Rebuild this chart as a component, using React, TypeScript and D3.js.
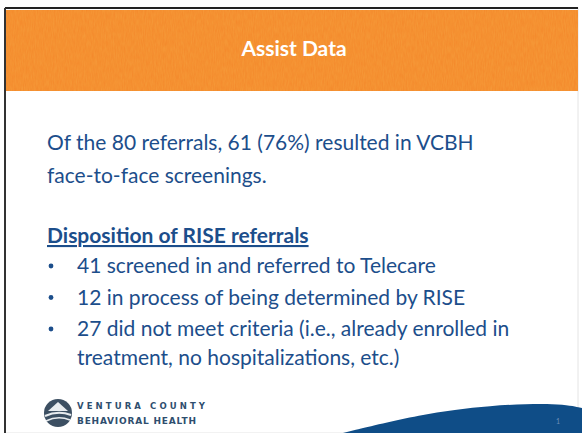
import React from "react";
import * as d3 from "d3";

// slide numbers
const totalReferrals = [80];
const screenedCounts = [61];
const screenedPct = [76];
const dispositionCounts = [41, 12, 27];
const dispositionLabels = [
  ["screened in and referred to Telecare"],
  ["in process of being determined by RISE"],
  ["did not meet criteria (i.e., already enrolled in", "treatment, no hospitalizations, etc.)"]
];

const W = 582;
const H = 433;
const FONT = "Lato, 'Open Sans', sans-serif";
const BLUE = "#1c4e8b";

export default function App() {
  // vertical positions of the text lines
  const lineY = d3.scaleLinear().domain([0, 1]).range([150, 183]);
  const bulletY = d3.scaleLinear().domain([0, 1]).range([273, 304.5]);

  let row = 0;
  const bulletLines: { text: string; y: number; bullet: boolean }[] = [];
  dispositionCounts.forEach((c, i) => {
    dispositionLabels[i].forEach((t, j) => {
      bulletLines.push({
        text: j === 0 ? `${c} ${t}` : t,
        y: j === 0 ? bulletY(row) : bulletY(row - 1) + 29,
        bullet: j === 0
      });
      if (j === 0) row++;
    });
  });

  const wave = d3.line().curve(d3.curveBasis)([
    [343, 433],
    [420, 414],
    [490, 405],
    [560, 403],
    [582, 408]
  ]);

  return (
    <svg width={W} height={H} style={{ position: "absolute", left: 0, top: 0, display: "block" }}>
      <defs>
        <filter id="grain" x="0" y="0" width="1" height="1">
          <feTurbulence type="fractalNoise" baseFrequency="0.9 0.15" numOctaves="2" seed="3" />
          <feColorMatrix type="matrix" values="0 0 0 0 0.93  0 0 0 0 0.46  0 0 0 0 0.08  0 0 0 0.4 0" />
          <feComposite in2="SourceGraphic" operator="in" />
        </filter>
      </defs>
      <rect x={0} y={0} width={W} height={H} fill="#ffffff" />
      <rect x={5} y={8} width={573} height={H - 8} fill="#ffffff" stroke="#e4e4e4" />
      <line x1={5} y1={8} x2={578} y2={8} stroke="#222" strokeWidth={2} />
      <line x1={5} y1={8} x2={5} y2={H} stroke="#333" strokeWidth={2} />
      <rect x={6} y={10} width={572} height={81} fill="#f4882a" />
      <rect x={6} y={10} width={572} height={81} fill="#e07818" filter="url(#grain)" />
      <text x={294} y={56} textAnchor="middle" fill="#fff" fontFamily={FONT} fontWeight={700} fontSize={21}>
        Assist Data
      </text>

      <text x={47} y={lineY(0)} fill={BLUE} fontFamily={FONT} fontSize={21}>
        {`Of the ${totalReferrals[0]} referrals, ${screenedCounts[0]} (${screenedPct[0]}%) resulted in VCBH`}
      </text>
      <text x={47} y={lineY(1)} fill={BLUE} fontFamily={FONT} fontSize={21}>
        face-to-face screenings.
      </text>

      <text x={47} y={243} fill={BLUE} fontFamily={FONT} fontSize={21} fontWeight={700} textDecoration="underline">
        Disposition of RISE referrals
      </text>

      {bulletLines.map((l, i) => (
        <g key={i}>
          {l.bullet && (
            <circle cx={51} cy={l.y - 7} r={2.4} fill={BLUE} />
          )}
          <text x={77} y={l.y} fill={BLUE} fontFamily={FONT} fontSize={21}>
            {l.text}
          </text>
        </g>
      ))}

      {/* footer */}
      <path d={wave + `L582,433Z`} fill="#0f4d87" />
      <text x={556} y={424} fill="#6d8fb8" fontFamily={FONT} fontSize={7}>1</text>
      <g transform="translate(58,413)">
        <circle r={14} fill="#3c4f62" />
        <path d="M-10,-2 L0,-11 L10,-2 Z" fill="#e8ecef" />
        <path d="M-13,3 Q0,-3 13,2" stroke="#e8ecef" strokeWidth={2} fill="none" />
        <path d="M-12,8 Q0,2 12,7" stroke="#e8ecef" strokeWidth={1.6} fill="none" />
      </g>
      <text x={77} y={409} fill="#2f4e6e" fontFamily="'DejaVu Sans', sans-serif" fontWeight={700} fontSize={8.5} letterSpacing={3.1}>
        VENTURA COUNTY
      </text>
      <text x={77} y={424} fill="#2f4e6e" fontFamily="'DejaVu Sans', sans-serif" fontWeight={700} fontSize={9} letterSpacing={0.8}>
        BEHAVIORAL HEALTH
      </text>
    </svg>
  );
}
